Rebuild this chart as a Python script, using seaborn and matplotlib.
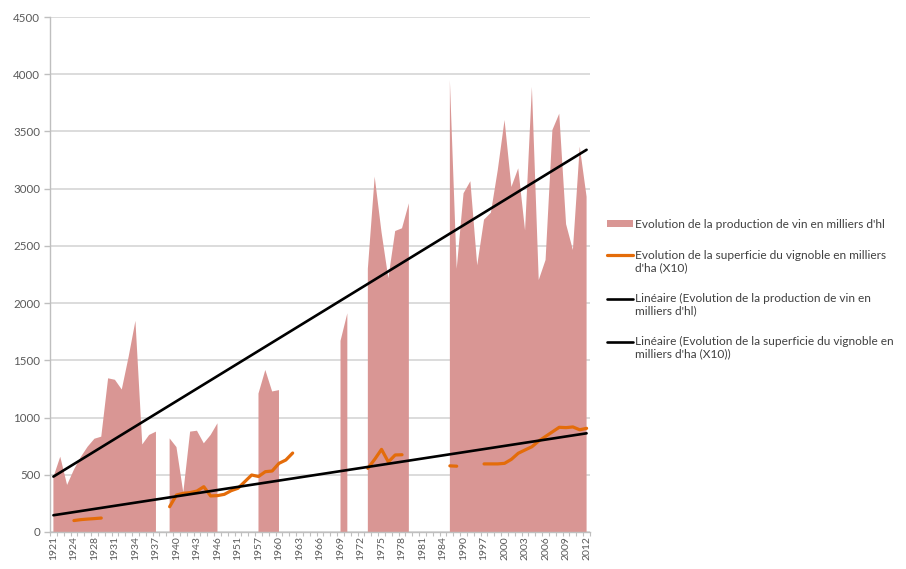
import numpy as np
import pandas as pd
import matplotlib
matplotlib.use("Agg")
import matplotlib.pyplot as plt
import seaborn as sns
from matplotlib.patches import Patch
from matplotlib.lines import Line2D
from matplotlib.legend_handler import HandlerLine2D

# ---------------- data ----------------
years = ([1921, 1922, 1923, 1924, 1926, 1927] + list(range(1928, 1947)) +
         [1948, 1950, 1951, 1953, 1955] + list(range(1957, 1985)) +
         [1986, 1988, 1990, 1993, 1995] + list(range(1997, 2013)))

N = None
production = [480, 658, 411, 545, 655, 745, 815, 833, 1343, 1330, 1245, 1530, 1845, 765, 848, 877,
              N,
              818, 742, 345, 877, 885, 775, 848, 950,
              N, N, N, N, N,
              1210, 1416, 1228, 1240,
              N, N, N, N, N, N, N, N,
              1670, 1911,
              N, N,
              2300, 3105, 2620, 2217, 2630, 2654, 2872,
              N, N, N, N, N,
              3950, 2300, 2960, 3065, 2330, 2730, 2790, 3160, 3600, 3015, 3178, 2635,
              3890, 2202, 2377, 3513, 3655, 2690, 2464, 3367, 2930]

superficie = [N, N, N, 100, 108, 113, 117, 122,
              N, N, N, N, N, N, N, N, N,
              221, 323, 338, 344, 358, 396, 315, 318, 329, 361, 382, 440, 498, 485,
              527, 533, 600, 629, 690,
              N, N, N, N, N, N, N, N, N, N,
              556, 635, 722, 612, 673, 675,
              N, N, N, N, N, N,
              578, 575,
              N, N, N,
              595, 595, 595, 600, 635, 688, 717, 745, 795, 835, 875, 915, 912, 918, 893, 906]

y_ticks = [0, 500, 1000, 1500, 2000, 2500, 3000, 3500, 4000, 4500]

labels = ["Evolution de la production de vin en milliers d'hl",
          "Evolution de la superficie du vignoble en milliers\nd'ha (X10)",
          "Linéaire (Evolution de la production de vin en\nmilliers d'hl)",
          "Linéaire (Evolution de la superficie du vignoble en\nmilliers d'ha (X10))"]

# ---------------- styling ----------------
area_color = "#D99694"
orange = "#E46C0A"
grid_color = "#D9D9D9"
text_color = "#595959"
LEG_FS = 8.6
LEG_LS = 1.1

sns.set_theme(style="white")
plt.rcParams['font.family'] = ['Lato', 'DejaVu Sans']

df = pd.DataFrame({"year": years,
                   "production": pd.array(production, dtype="Float64").astype(float),
                   "superficie": pd.array(superficie, dtype="Float64").astype(float)})
df["idx"] = np.arange(len(df))
df["seg"] = df["superficie"].isna().cumsum()

fig = plt.figure(figsize=(9.06, 5.69), dpi=100)
ax = fig.add_axes([50 / 906, 1 - 532 / 569, 540 / 906, 515 / 569])

# area (production)
ax.fill_between(df["idx"].to_numpy(), 0, df["production"].to_numpy(),
                color=area_color, linewidth=0, zorder=2)

# superficie line, in contiguous segments
sup = df.dropna(subset=["superficie"])
sns.lineplot(data=sup, x="idx", y="superficie", units="seg", estimator=None,
             color=orange, linewidth=2.3, ax=ax, legend=False, zorder=4)

# linear trend lines (least squares over the category index)
mp = df.dropna(subset=["production"])
ms = df.dropna(subset=["superficie"])
cp = np.polyfit(mp["idx"], mp["production"], 1)
cs = np.polyfit(ms["idx"], ms["superficie"], 1)
trend = pd.DataFrame({"idx": df["idx"],
                      "tp": np.polyval(cp, df["idx"]),
                      "ts": np.polyval(cs, df["idx"])})
sns.lineplot(data=trend, x="idx", y="tp", color="black", linewidth=1.9, ax=ax, zorder=5)
sns.lineplot(data=trend, x="idx", y="ts", color="black", linewidth=1.9, ax=ax, zorder=5)

# axes
ax.set_xlim(-0.5, len(df) - 0.5)
ax.set_ylim(0, 4500)
ax.set_yticks(y_ticks)
ax.set_yticklabels([str(v) for v in y_ticks])
tick_pos = list(range(0, len(df), 3))
ax.set_xticks(tick_pos)
ax.set_xticklabels([str(years[i]) for i in tick_pos], rotation=90)
ax.set_xticks(np.arange(-0.5, len(df), 1), minor=True)
ax.set_xlabel("")
ax.set_ylabel("")

ax.set_axisbelow(True)
ax.yaxis.grid(True, color=grid_color, linewidth=1.3, zorder=0)
ax.xaxis.grid(False)
for s in ["top", "right"]:
    ax.spines[s].set_visible(False)
for s in ["left", "bottom"]:
    ax.spines[s].set_color("#BFBFBF")
    ax.spines[s].set_linewidth(1.0)
ax.tick_params(axis="y", which="major", length=4, color="#BFBFBF", width=1,
               labelsize=8.3, labelcolor=text_color, pad=3, left=True)
ax.tick_params(axis="x", which="major", length=0, labelsize=7.5,
               labelcolor=text_color, pad=3, bottom=True)
ax.tick_params(axis="x", which="minor", length=3, color="#BFBFBF", width=0.8, bottom=True)


class HandlerFirstLine(HandlerLine2D):
    """Line handle aligned with the first line of a two-line label."""
    def __init__(self, dy, **kw):
        super().__init__(**kw)
        self.dy = dy

    def create_artists(self, legend, orig_handle, xdescent, ydescent,
                       width, height, fontsize, trans):
        arts = super().create_artists(legend, orig_handle, xdescent, ydescent,
                                      width, height, fontsize, trans)
        for a in arts:
            if isinstance(a, Line2D):
                a.set_ydata(np.asarray(a.get_ydata(), dtype=float) + self.dy)
        return arts


shift = 0.5 * LEG_LS * LEG_FS
h_orange = Line2D([], [], color=orange, linewidth=2.3)
h_t1 = Line2D([], [], color="black", linewidth=1.9)
h_t2 = Line2D([], [], color="black", linewidth=1.9)
handles = [Patch(facecolor=area_color, edgecolor="none"), h_orange, h_t1, h_t2]
leg = fig.legend(handles, labels, loc="center left", bbox_to_anchor=(607 / 906, 1 - 289 / 569),
                 frameon=False, fontsize=LEG_FS, labelcolor="#404040", handlelength=2.2,
                 handleheight=0.6, handletextpad=0.15, labelspacing=1.7, borderpad=0,
                 borderaxespad=0,
                 handler_map={h_orange: HandlerFirstLine(shift),
                              h_t1: HandlerFirstLine(shift),
                              h_t2: HandlerFirstLine(shift)})
for t in leg.get_texts():
    t.set_linespacing(LEG_LS)

fig.savefig("out.png", dpi=100)
